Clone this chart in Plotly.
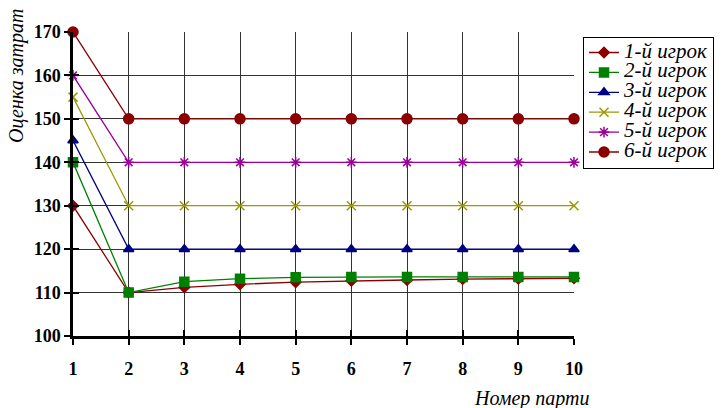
import plotly.graph_objects as go

games = [1, 2, 3, 4, 5, 6, 7, 8, 9, 10]
names = ["1-й игрок", "2-й игрок", "3-й игрок", "4-й игрок", "5-й игрок", "6-й игрок"]
p1 = [130, 110, 111.2, 111.9, 112.4, 112.7, 112.9, 113.1, 113.2, 113.3]
p2 = [140, 110, 112.5, 113.2, 113.5, 113.6, 113.6, 113.6, 113.6, 113.6]
p3 = [145, 120, 120, 120, 120, 120, 120, 120, 120, 120]
p4 = [155, 130, 130, 130, 130, 130, 130, 130, 130, 130]
p5 = [160, 140, 140, 140, 140, 140, 140, 140, 140, 140]
p6 = [170, 150, 150, 150, 150, 150, 150, 150, 150, 150]
series = [p1, p2, p3, p4, p5, p6]
y_ticks = [100, 110, 120, 130, 140, 150, 160, 170]

colors = ["#8B0000", "#008000", "#000080", "#999900", "#990099", "#8B0000"]
symbols = ["diamond", "square", "triangle-up", "x-thin-open", "asterisk-open", "circle"]
sizes = [8, 9, 9, 9, 9, 10]

fig = go.Figure()
for nm, vals, c, s, sz in zip(names, series, colors, symbols, sizes):
    fig.add_trace(go.Scatter(
        x=games, y=vals, mode="lines+markers",
        name='<span style="font-size:21px">' + nm + "</span>",
        line=dict(color=c, width=1.3),
        marker=dict(symbol=s, size=sz, color=c, line=dict(color=c, width=1.5)),
        cliponaxis=False,
    ))

font_serif = "Times New Roman, Liberation Serif, serif"
fig.update_layout(
    width=728, height=408,
    margin=dict(l=73, r=154, t=32, b=72),
    paper_bgcolor="white", plot_bgcolor="white",
    font=dict(family=font_serif),
    showlegend=True,
    legend=dict(
        x=1.018, y=0.985, xanchor="left", yanchor="top",
        bordercolor="black", borderwidth=1, bgcolor="white",
        font=dict(family=font_serif, size=13, style="italic", color="black"),
        tracegroupgap=0, itemwidth=30,
    ),
    xaxis=dict(
        range=[1, 10], tickvals=games, showgrid=True, gridcolor="#333333", gridwidth=1,
        showline=True, linecolor="black", linewidth=2.5, mirror=False,
        ticks="outside", ticklen=6, tickcolor="black", tickwidth=2,
        tickfont=dict(family=font_serif, size=18, color="black", weight="bold"),
        ticklabelstandoff=9, zeroline=False,
    ),
    yaxis=dict(
        range=[100, 170], tickvals=y_ticks, showgrid=True, gridcolor="#333333", gridwidth=1,
        showline=True, linecolor="black", linewidth=2.5,
        ticks="outside", ticklen=6, tickcolor="black", tickwidth=2,
        tickfont=dict(family=font_serif, size=18, color="black", weight="bold"),
        zeroline=False,
    ),
    xaxis2=dict(range=[1, 10], tickvals=games, overlaying="x", side="bottom",
                ticks="inside", ticklen=6, tickcolor="black", tickwidth=2,
                showticklabels=False, showgrid=False, zeroline=False, showline=False, anchor="y"),
    yaxis2=dict(range=[100, 170], tickvals=y_ticks, overlaying="y", side="left",
                ticks="inside", ticklen=6, tickcolor="black", tickwidth=2,
                showticklabels=False, showgrid=False, zeroline=False, showline=False, anchor="x"),
    annotations=[
        dict(text="Оценка затрат", xref="paper", yref="paper", x=-0.114, y=0.855,
             textangle=-90, showarrow=False, xanchor="center", yanchor="middle",
             font=dict(family=font_serif, size=20, style="italic", color="black")),
        dict(text="Номер парти", xref="paper", yref="paper", x=0.916, y=-0.204,
             showarrow=False, xanchor="center", yanchor="middle",
             font=dict(family=font_serif, size=20, style="italic", color="black")),
    ],
)
fig.add_trace(go.Scatter(x=[1], y=[100], xaxis="x2", yaxis="y2", mode="markers",
                         marker=dict(opacity=0), showlegend=False, hoverinfo="skip"))
fig.write_html("out.html")
